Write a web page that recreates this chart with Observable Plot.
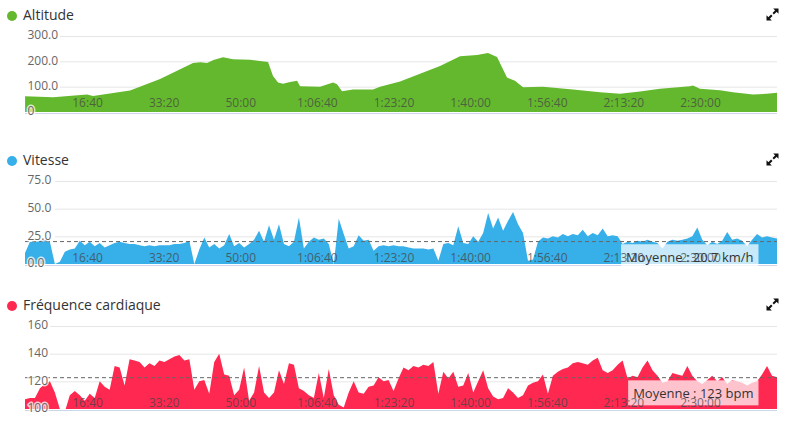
<!DOCTYPE html>
<html>
<head>
<meta charset="utf-8">
<script src="https://cdn.jsdelivr.net/npm/d3@7"></script>
<script src="https://cdn.jsdelivr.net/npm/@observablehq/plot@0.6"></script>
<style>
  html, body { margin: 0; padding: 0; background: #fff; }
  #root { position: relative; width: 787px; height: 426px; overflow: hidden; font-family: "Open Sans", sans-serif; }
  .dot { position: absolute; left: 7px; width: 10px; height: 10px; border-radius: 50%; }
  .title { position: absolute; left: 23px; font-size: 14px; line-height: 20px; color: #333; white-space: nowrap; }
  .icon { position: absolute; left: 765px; width: 15px; height: 15px; }
  .chart { position: absolute; left: 0; }
</style>
</head>
<body>
<div id="root"></div>
<script>
// ---------- DATA ----------
const timeTicks = [1000, 2000, 3000, 4000, 5000, 6000, 7000, 8000, 9000];
const timeTickLabels = ["16:40", "33:20", "50:00", "1:06:40", "1:23:20", "1:40:00", "1:56:40", "2:13:20", "2:30:00"];

// Altitude (m) at elapsed seconds
const altSeconds = [191, 556, 1000, 1078, 1561, 1953, 2383, 2480, 2566, 2650, 2775, 2905, 3127, 3258, 3362, 3427, 3493, 3558, 3649, 3741, 3780, 4041, 4211, 4263, 4328, 4471, 4732, 4824, 5085, 5607, 5868, 6090, 6233, 6351, 6481, 6585, 6690, 6951, 7342, 7695, 7956, 8217, 8478, 8869, 8908, 9000, 9261, 9430, 9691, 9874, 10005];
const altitude   = [62, 58, 69, 63, 85, 130, 193, 196, 193, 205, 216, 208, 206, 201, 197, 142, 116, 112, 118, 123, 102, 100, 116, 110, 82, 89, 89, 100, 120, 182, 220, 225, 233, 217, 136, 123, 98, 100, 89, 78, 72, 81, 92, 102, 105, 92, 86, 78, 69, 72, 76];
const altTicks = [0, 100, 200, 300];
const altTickLabels = ["0", "100.0", "200.0", "300.0"];

// Shared sample times (s) for speed and heart rate
const sampleSeconds = [
  190,255,320,385,450,515,580,645,710,775,
  840,905,970,1035,1100,1165,1230,1295,1360,1425,
  1490,1555,1620,1685,1750,1815,1880,1945,2010,2075,
  2140,2205,2270,2335,2400,2465,2530,2595,2660,2725,
  2790,2855,2920,2985,3050,3115,3180,3245,3310,3375,
  3440,3505,3570,3635,3700,3765,3830,3895,3960,4025,
  4090,4155,4220,4285,4350,4415,4480,4545,4610,4675,
  4740,4805,4870,4935,5000,5065,5130,5195,5260,5325,
  5390,5455,5520,5585,5650,5715,5780,5845,5910,5975,
  6040,6105,6170,6235,6300,6365,6430,6495,6560,6625,
  6690,6755,6820,6885,6950,7015,7080,7145,7210,7275,
  7340,7405,7470,7535,7600,7665,7730,7795,7860,7925,
  7990,8055,8120,8185,8250,8315,8380,8445,8510,8575,
  8640,8705,8770,8835,8900,8965,9030,9095,9160,9225,
  9290,9355,9420,9485,9550,9615,9680,9745,9810,9875,
  9940,10005
];

// Speed (km/h)
const speed = [
  10,20,20,21,22,20,0,2,11,13,
  14,21,17,20,16,19,15,17,19,20,
  19,18,18,17,16,17,16,17,17,17,
  18,18,19,21,0,13,24,15,18,14,
  17,27,16,19,15,18,22,30,20,35,
  22,36,18,16,20,42,14,20,24,22,
  23,18,0,41,27,14,16,26,21,22,
  12,16,17,16,17,16,16,15,14,14,
  14,13,14,3,18,19,17,34,19,18,
  25,20,28,46,32,42,30,39,47,36,
  28,3,4,20,24,23,25,24,27,25,
  27,26,31,25,28,26,32,25,26,25,
  18,20,19,21,20,22,20,19,14,20,
  22,21,22,23,25,33,22,17,20,18,
  21,29,22,23,21,16,22,27,24,25,
  24,23
];
const speedTicks = [0, 25, 50, 75];
const speedTickLabels = ["0.0", "25.0", "50.0", "75.0"];
const speedAverage = 20.7;
const speedAverageLabel = "Moyenne : 20.7 km/h";

// Heart rate (bpm)
const heartRate = [
  107,108,108,115,118,120,112,100,98,110,
  113,110,106,111,108,120,116,114,131,130,
  117,136,135,134,130,133,131,135,134,136,
  138,139,135,136,114,120,121,111,134,140,
  125,124,110,114,130,106,112,131,112,108,
  112,128,118,133,132,115,113,110,108,126,
  108,129,110,103,101,112,120,112,111,116,
  117,123,120,121,113,122,130,128,131,130,
  132,131,134,111,127,122,127,116,117,126,
  112,120,128,115,109,107,108,115,112,108,
  110,117,119,120,125,111,124,127,129,130,
  133,134,133,132,135,137,128,126,128,132,
  135,122,124,123,130,135,128,124,119,120,
  126,125,124,131,124,120,118,121,124,120,
  123,118,121,120,119,117,119,120,125,131,
  124,123
];
const hrTicks = [100, 120, 140, 160];
const hrTickLabels = ["100", "120", "140", "160"];
const hrAverage = 123;
const hrAverageLabel = "Moyenne : 123 bpm";

const panelTitles = ["Altitude", "Vitesse", "Fréquence cardiaque"];
const panelColors = ["#64b82e", "#37afe8", "#ff2850"];

// ---------- RENDER ----------
const root = document.getElementById("root");
const xDomain = [sampleSeconds[0], sampleSeconds[sampleSeconds.length - 1]];

function header(top, title, color) {
  const dot = document.createElement("div");
  dot.className = "dot";
  dot.style.top = (top + 11) + "px";
  dot.style.background = color;
  root.appendChild(dot);
  const t = document.createElement("div");
  t.className = "title";
  t.style.top = (top + 5) + "px";
  t.textContent = title;
  root.appendChild(t);
  const ns = "http://www.w3.org/2000/svg";
  const ic = document.createElementNS(ns, "svg");
  ic.setAttribute("class", "icon");
  ic.setAttribute("viewBox", "0 0 15 15");
  ic.style.top = (top + 7) + "px";
  ic.innerHTML = '<path d="M8.2 6.8 L12 3" stroke="#111" stroke-width="2"/>' +
                 '<path d="M13.5 1.5 L13.5 6.8 L8.2 1.5 Z" fill="#111"/>' +
                 '<path d="M6.8 8.2 L3 12" stroke="#111" stroke-width="2"/>' +
                 '<path d="M1.5 13.5 L1.5 8.2 L6.8 13.5 Z" fill="#111"/>';
  root.appendChild(ic);
}

function chart(opts) {
  const {svgTop, height, marginTop, marginBottom, yDomain, rows, color, ticks, tickLabels,
         gridInset, tickDy, avg, avgLabel} = opts;
  const marks = [
    Plot.ruleY(ticks.filter(d => d !== yDomain[0]), {y: d => d, stroke: "#e6e6e6", insetLeft: gridInset}),
    Plot.areaY(rows, {x: "t", y1: yDomain[0], y2: "v", fill: color, clip: true}),
    Plot.ruleY([yDomain[0]], {stroke: "#ccd6eb", dy: 1})
  ];
  if (avg != null) {
    marks.push(Plot.ruleY([avg], {stroke: "#666", strokeWidth: 1, strokeDasharray: "4,3"}));
    marks.push(Plot.text([avgLabel], {x: xDomain[1], y: avg, text: d => d, textAnchor: "end",
      dx: -24, dy: 16, fontSize: 13, fill: "#333"}));
  }
  marks.push(Plot.text(timeTicks, {x: d => d, y: yDomain[0], text: (d, i) => timeTickLabels[i],
    dy: tickDy, fontSize: 12, fill: "#444", fillOpacity: 0.75}));
  marks.push(Plot.text(ticks, {x: xDomain[0], y: d => d, text: (d, i) => tickLabels[i],
    textAnchor: "start", dx: 2, dy: -1, fontSize: 12, fill: "#666",
    stroke: "white", strokeWidth: 3, strokeOpacity: 0.75, paintOrder: "stroke"}));

  const svg = Plot.plot({
    width: 787, height, marginLeft: 25, marginRight: 10, marginTop, marginBottom,
    x: {domain: xDomain, axis: null},
    y: {domain: yDomain, axis: null},
    style: {fontFamily: "'Open Sans', sans-serif", background: "transparent", overflow: "visible"},
    marks
  });
  svg.classList.add("chart");
  svg.style.top = svgTop + "px";
  root.appendChild(svg);

  if (avg != null) {
    const label = Array.from(svg.querySelectorAll("text")).find(e => e.textContent === avgLabel);
    if (label) {
      const bb = label.getBBox();
      const r = document.createElementNS("http://www.w3.org/2000/svg", "rect");
      r.setAttribute("x", bb.x - 5);
      r.setAttribute("y", bb.y - 3.5);
      r.setAttribute("width", bb.width + 10);
      r.setAttribute("height", bb.height + 7);
      r.setAttribute("fill", "white");
      r.setAttribute("fill-opacity", "0.72");
      const tr = label.getAttribute("transform");
      if (tr) r.setAttribute("transform", tr);
      label.parentNode.insertBefore(r, label);
    }
  }
}

header(0, panelTitles[0], panelColors[0]);
chart({
  svgTop: 20, height: 100, marginTop: 16, marginBottom: 8,
  yDomain: [0, 300],
  rows: altSeconds.map((t, i) => ({t, v: altitude[i]})),
  color: panelColors[0], ticks: altTicks, tickLabels: altTickLabels,
  gridInset: 35, tickDy: -9
});

header(145, panelTitles[1], panelColors[1]);
chart({
  svgTop: 165, height: 105, marginTop: 16, marginBottom: 6,
  yDomain: [0, 75],
  rows: sampleSeconds.map((t, i) => ({t, v: speed[i]})),
  color: panelColors[1], ticks: speedTicks, tickLabels: speedTickLabels,
  gridInset: 30, tickDy: -6.5, avg: speedAverage, avgLabel: speedAverageLabel
});

header(290, panelTitles[2], panelColors[2]);
chart({
  svgTop: 310, height: 105, marginTop: 16, marginBottom: 6,
  yDomain: [100, 160],
  rows: sampleSeconds.map((t, i) => ({t, v: heartRate[i]})),
  color: panelColors[2], ticks: hrTicks, tickLabels: hrTickLabels,
  gridInset: 25, tickDy: -6.5, avg: hrAverage, avgLabel: hrAverageLabel
});
</script>
</body>
</html>
